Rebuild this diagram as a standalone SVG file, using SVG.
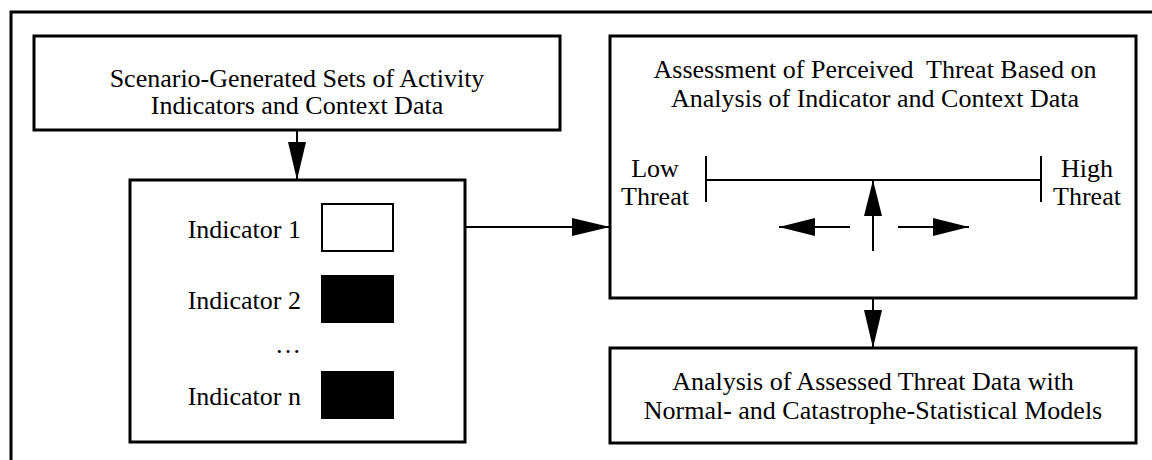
<svg xmlns="http://www.w3.org/2000/svg" width="1152" height="460" viewBox="0 0 1152 460">
<style>
.box{fill:#fff;stroke:#000;stroke-width:3}
.ln{fill:none;stroke:#000;stroke-width:2}
text{font-family:"Liberation Serif","Times New Roman",serif;font-size:26px;fill:#000}
.c{text-anchor:middle}
.r{text-anchor:end}
</style>
<defs>
<marker id="ah" markerUnits="userSpaceOnUse" markerWidth="42" markerHeight="20" refX="40" refY="9" orient="auto" viewBox="0 0 42 20">
<path d="M2,0 L40,9 L2,18 Z" fill="#000"/>
</marker>
<marker id="ahs" markerUnits="userSpaceOnUse" markerWidth="38" markerHeight="20" refX="36" refY="9" orient="auto" viewBox="0 0 38 20">
<path d="M0,0 L36,9 L0,18 Z" fill="#000"/>
</marker>
</defs>
<rect x="0" y="0" width="1152" height="460" fill="#fff"/>
<rect id="frame" x="11" y="12" width="1160" height="470" fill="none" stroke="#000" stroke-width="3"/>

<g id="connectors">
<line class="ln" x1="297" y1="130" x2="297" y2="180" marker-end="url(#ah)"/>
<line class="ln" x1="465" y1="227" x2="610" y2="227" marker-end="url(#ah)"/>
<line class="ln" x1="873" y1="298" x2="873" y2="348" marker-end="url(#ah)"/>
</g>

<g id="scenario">
<rect class="box" x="34" y="36" width="526" height="94"/>
<text class="c" x="297" y="87">Scenario-Generated Sets of Activity</text>
<text class="c" x="297" y="114">Indicators and Context Data</text>
</g>

<g id="indicators">
<rect class="box" x="130" y="180" width="335" height="262"/>
<text class="r" x="301" y="238">Indicator 1</text>
<rect x="322" y="204" width="71" height="47" fill="#fff" stroke="#000" stroke-width="2"/>
<text class="r" x="301" y="309">Indicator 2</text>
<rect x="321" y="275" width="73" height="48" fill="#000"/>
<text class="r" x="301" y="353">…</text>
<text class="r" x="301" y="405">Indicator n</text>
<rect x="321" y="371" width="73" height="48" fill="#000"/>
</g>

<g id="assessment">
<rect class="box" x="610" y="36" width="526" height="262"/>
<text class="c" x="875" y="78" xml:space="preserve">Assessment of Perceived  Threat Based on</text>
<text class="c" x="875" y="107">Analysis of Indicator and Context Data</text>
<text class="c" x="655" y="177">Low</text>
<text class="c" x="655" y="205">Threat</text>
<text class="c" x="1087" y="177">High</text>
<text class="c" x="1087" y="205">Threat</text>
<line class="ln" x1="706" y1="180" x2="1041" y2="180"/>
<line class="ln" x1="706" y1="156" x2="706" y2="202"/>
<line class="ln" x1="1041" y1="156" x2="1041" y2="202"/>
<line class="ln" x1="873" y1="251" x2="873" y2="180" marker-end="url(#ahs)"/>
<line class="ln" x1="850" y1="227" x2="779" y2="227" marker-end="url(#ahs)"/>
<line class="ln" x1="898" y1="227" x2="969" y2="227" marker-end="url(#ahs)"/>
</g>

<g id="analysis">
<rect class="box" x="610" y="348" width="526" height="95"/>
<text class="c" x="873" y="390">Analysis of Assessed Threat Data with</text>
<text class="c" x="873" y="419">Normal- and Catastrophe-Statistical Models</text>
</g>
</svg>
